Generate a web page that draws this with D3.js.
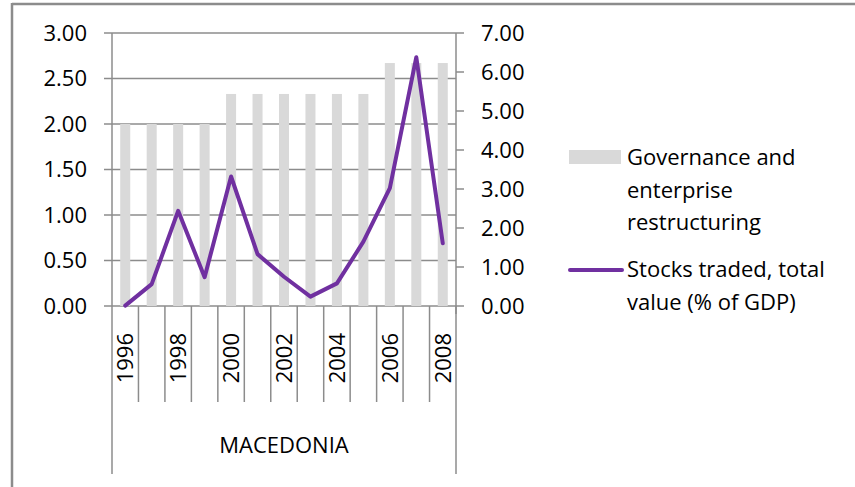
<!DOCTYPE html>
<html>
<head>
<meta charset="utf-8">
<script src="https://cdn.jsdelivr.net/npm/d3@7"></script>
<style>
  body { margin: 0; background: #fff; }
  text { font-family: "Open Sans", sans-serif; fill: #000; }
</style>
</head>
<body>
<svg id="chart" width="855" height="487"></svg>
<script>
// chart data
var years = ["1996","1997","1998","1999","2000","2001","2002","2003","2004","2005","2006","2007","2008"];
var governance = [2.00,2.00,2.00,2.00,2.33,2.33,2.33,2.33,2.33,2.33,2.67,2.67,2.67];
var stocks = [0.01,0.56,2.44,0.74,3.32,1.33,0.75,0.24,0.58,1.65,3.02,6.38,1.61];
var leftTicks = [0,0.5,1,1.5,2,2.5,3];
var rightTicks = [0,1,2,3,4,5,6,7];
var groupLabel = "MACEDONIA";
var legendNames = [["Governance and","enterprise","restructuring"],["Stocks traded, total","value (% of GDP)"]];

var svg = d3.select("#chart");
var gray = "#8c8c8c";
var fs = "22px";
var plotLeft = 112, plotRight = 456, plotTop = 33, plotBottom = 306;

// outer frame (only top and left visible)
svg.append("line").attr("x1", 12).attr("y1", 4).attr("x2", 855).attr("y2", 4)
  .attr("stroke", gray).attr("stroke-width", 2.5);
svg.append("line").attr("x1", 12).attr("y1", 3).attr("x2", 12).attr("y2", 487)
  .attr("stroke", gray).attr("stroke-width", 2.5);

var x = d3.scaleBand().domain(years).range([plotLeft, plotRight]);
var yL = d3.scaleLinear().domain([0, 3]).range([plotBottom, plotTop]);
var yR = d3.scaleLinear().domain([0, 7]).range([plotBottom, plotTop]);

// gridlines
svg.append("g").selectAll("line").data(leftTicks).enter().append("line")
  .attr("x1", plotLeft - 8).attr("x2", plotRight)
  .attr("y1", d => yL(d)).attr("y2", d => yL(d))
  .attr("stroke", gray).attr("stroke-width", 1.5);

// bars
var barW = 10;
svg.append("g").selectAll("rect").data(governance).enter().append("rect")
  .attr("x", (d, i) => x(years[i]) + x.bandwidth() / 2 - barW / 2)
  .attr("y", d => yL(d))
  .attr("width", barW)
  .attr("height", d => yL(0) - yL(d))
  .attr("fill", "#d9d9d9");

// left axis
svg.append("line").attr("x1", plotLeft).attr("x2", plotLeft).attr("y1", plotTop).attr("y2", plotBottom)
  .attr("stroke", gray).attr("stroke-width", 1.5);
svg.append("g").selectAll("text").data(leftTicks).enter().append("text")
  .attr("x", 87).attr("y", d => yL(d)).attr("dy", "0.36em")
  .attr("text-anchor", "end").style("font-size", fs)
  .text(d => d3.format(".2f")(d));

// right axis
svg.append("line").attr("x1", plotRight).attr("x2", plotRight).attr("y1", plotTop).attr("y2", plotBottom + 8)
  .attr("stroke", gray).attr("stroke-width", 1.5);
svg.append("g").selectAll("line").data(rightTicks).enter().append("line")
  .attr("x1", plotRight).attr("x2", plotRight + 8)
  .attr("y1", d => yR(d)).attr("y2", d => yR(d))
  .attr("stroke", gray).attr("stroke-width", 1.5);
svg.append("g").selectAll("text").data(rightTicks).enter().append("text")
  .attr("x", 481).attr("y", d => yR(d)).attr("dy", "0.36em")
  .style("font-size", fs)
  .text(d => d3.format(".2f")(d));

// category ticks below the axis
var bounds = years.map(d => x(d)).concat([plotRight]);
svg.append("g").selectAll("line").data(bounds).enter().append("line")
  .attr("x1", d => d).attr("x2", d => d)
  .attr("y1", plotBottom)
  .attr("y2", (d, i) => (i == 0 || i == bounds.length - 1) ? 474 : 402)
  .attr("stroke", gray).attr("stroke-width", 1.5);

svg.append("g").selectAll("text").data(years.filter((d, i) => i % 2 == 0)).enter().append("text")
  .attr("transform", d => "translate(" + (x(d) + x.bandwidth() / 2) + ",333) rotate(-90)")
  .attr("dy", "0.36em")
  .attr("text-anchor", "end").style("font-size", fs)
  .text(d => d);

svg.append("text").attr("x", (plotLeft + plotRight) / 2).attr("y", 453)
  .attr("text-anchor", "middle").style("font-size", fs)
  .text(groupLabel);

// stocks line
var line = d3.line()
  .x((d, i) => x(years[i]) + x.bandwidth() / 2)
  .y(d => yR(d));
svg.append("path").datum(stocks)
  .attr("d", line)
  .attr("fill", "none")
  .attr("stroke", "#7030a0")
  .attr("stroke-width", 4)
  .attr("stroke-linejoin", "round")
  .attr("stroke-linecap", "round");

// legend
svg.append("rect").attr("x", 569).attr("y", 150).attr("width", 52).attr("height", 14).attr("fill", "#d9d9d9");
svg.append("g").selectAll("text").data(legendNames[0]).enter().append("text")
  .attr("x", 627).attr("y", (d, i) => 165 + i * 32.5)
  .style("font-size", fs).text(d => d);
svg.append("line").attr("x1", 570).attr("x2", 622).attr("y1", 270).attr("y2", 270)
  .attr("stroke", "#7030a0").attr("stroke-width", 4).attr("stroke-linecap", "round");
svg.append("g").selectAll("text").data(legendNames[1]).enter().append("text")
  .attr("x", 627).attr("y", (d, i) => 277 + i * 33)
  .style("font-size", fs).text(d => d);
</script>
</body>
</html>
